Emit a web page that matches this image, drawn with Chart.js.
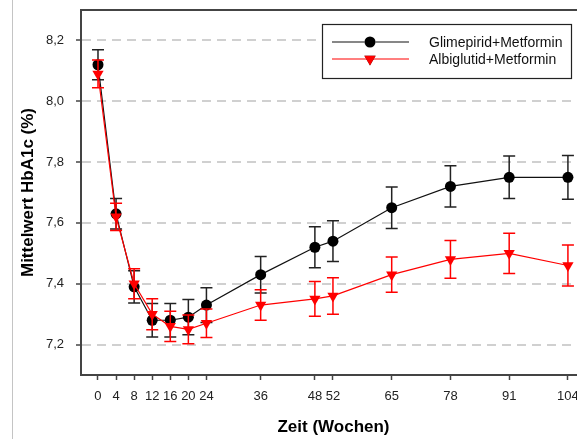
<!DOCTYPE html>
<html>
<head>
<meta charset="utf-8">
<title>HbA1c im Zeitverlauf</title>
<script src="https://cdn.jsdelivr.net/npm/chart.js@4/dist/chart.umd.min.js"></script>
<style>
  html, body { margin: 0; padding: 0; overflow: hidden; background: #fff; }
</style>
</head>
<body>
<canvas id="hba1c" width="600" height="439"></canvas>
<script>
// Weeks of measurement and mean HbA1c (%) with standard error per arm
const weeks = [0, 4, 8, 12, 16, 20, 24, 36, 48, 52, 65, 78, 91, 104];
const glimepiridMean = [8.12, 7.63, 7.39, 7.28, 7.28, 7.29, 7.33, 7.43, 7.52, 7.54, 7.65, 7.72, 7.75, 7.75];
const glimepiridErr = [0.049, 0.05, 0.053, 0.055, 0.055, 0.058, 0.057, 0.06, 0.067, 0.067, 0.068, 0.068, 0.07, 0.072];
const albiglutidMean = [8.09, 7.62, 7.40, 7.30, 7.26, 7.25, 7.27, 7.33, 7.35, 7.36, 7.43, 7.48, 7.50, 7.46];
const albiglutidErr = [0.046, 0.045, 0.049, 0.051, 0.05, 0.047, 0.047, 0.05, 0.057, 0.06, 0.058, 0.062, 0.066, 0.067];
const yTicks = [7.2, 7.4, 7.6, 7.8, 8.0, 8.2];

const FONT = '"Liberation Sans", Arial, sans-serif';
Chart.defaults.font.family = FONT;

const toPoints = (means) => weeks.map((w, i) => ({ x: w, y: means[i] }));

// Scales keep a fixed size and reserve no extra room for edge labels
const fixScale = (size) => (scale) => {
  if (scale.isHorizontal()) scale.height = size; else scale.width = size;
  scale.paddingTop = scale.paddingBottom = 0;
  scale.paddingLeft = scale.paddingRight = 0;
};

// Vertical error bars with caps, drawn under each series
const errorBars = {
  id: 'errorBars',
  beforeDatasetDraw(chart, args) {
    const ds = chart.data.datasets[args.index];
    if (!ds.errors) return;
    const { ctx } = chart;
    const yScale = chart.scales.y;
    ctx.save();
    ctx.strokeStyle = ds.errorColor;
    ctx.lineWidth = 1.5;
    args.meta.data.forEach((pt, i) => {
      const m = ds.data[i].y;
      const top = yScale.getPixelForValue(m + ds.errors[i]);
      const bottom = yScale.getPixelForValue(m - ds.errors[i]);
      ctx.beginPath();
      ctx.moveTo(pt.x, top);
      ctx.lineTo(pt.x, bottom);
      ctx.moveTo(pt.x - 6, top);
      ctx.lineTo(pt.x + 6, top);
      ctx.moveTo(pt.x - 6, bottom);
      ctx.lineTo(pt.x + 6, bottom);
      ctx.stroke();
    });
    ctx.restore();
  }
};

// Top border of the plot and the thin page rule on the left
const frame = {
  id: 'frame',
  afterDraw(chart) {
    const { ctx, chartArea } = chart;
    ctx.save();
    ctx.strokeStyle = '#444';
    ctx.lineWidth = 2;
    ctx.beginPath();
    ctx.moveTo(chartArea.left - 1, chartArea.top);
    ctx.lineTo(chart.width, chartArea.top);
    ctx.stroke();
    ctx.strokeStyle = '#c4c4c4';
    ctx.lineWidth = 1;
    ctx.beginPath();
    ctx.moveTo(12.5, 0);
    ctx.lineTo(12.5, chart.height);
    ctx.stroke();
    ctx.restore();
  }
};

// Boxed legend: line sample with marker, then the label
const boxLegend = {
  id: 'boxLegend',
  afterDraw(chart) {
    const { ctx } = chart;
    ctx.save();
    ctx.fillStyle = '#fff';
    ctx.fillRect(322, 24, 249, 54);
    ctx.strokeStyle = '#222';
    ctx.lineWidth = 1.2;
    ctx.strokeRect(322.5, 24.5, 249, 54);
    chart.data.datasets.forEach((ds, i) => {
      const y = 42 + i * 17;
      ctx.strokeStyle = ds.borderColor;
      ctx.lineWidth = 1.2;
      ctx.beginPath();
      ctx.moveTo(332, y);
      ctx.lineTo(409, y);
      ctx.stroke();
      Chart.helpers.drawPoint(ctx, {
        pointStyle: ds.pointStyle,
        rotation: ds.pointRotation || 0,
        radius: ds.pointRadius,
        borderWidth: 0
      }, 370, y);
      ctx.fillStyle = ds.pointBackgroundColor;
      ctx.fill();
      ctx.fillStyle = '#111';
      ctx.font = '14px ' + FONT;
      ctx.textBaseline = 'middle';
      ctx.fillText(ds.label, 429, y + 1);
    });
    ctx.restore();
  }
};

new Chart(document.getElementById('hba1c'), {
  type: 'line',
  data: {
    datasets: [
      {
        label: 'Glimepirid+Metformin',
        data: toPoints(glimepiridMean),
        errors: glimepiridErr,
        errorColor: '#222',
        borderColor: '#111',
        borderWidth: 1.2,
        pointStyle: 'circle',
        pointRadius: 5.5,
        pointBackgroundColor: '#000',
        pointBorderWidth: 0,
        order: 1
      },
      {
        label: 'Albiglutid+Metformin',
        data: toPoints(albiglutidMean),
        errors: albiglutidErr,
        errorColor: '#ff0000',
        borderColor: '#ff0000',
        borderWidth: 1.2,
        pointStyle: 'triangle',
        pointRotation: 180,
        pointRadius: 6.5,
        pointBackgroundColor: '#ff0000',
        pointBorderWidth: 0,
        order: 0
      }
    ]
  },
  options: {
    responsive: false,
    animation: false,
    layout: { autoPadding: false, padding: { top: 10, right: 14, left: 0, bottom: 0 } },
    plugins: {
      legend: { display: false },
      tooltip: { enabled: false }
    },
    scales: {
      x: {
        type: 'linear',
        min: -3.76,
        max: 108,
        afterBuildTicks: (scale) => { scale.ticks = weeks.map(v => ({ value: v })); },
        afterFit: fixScale(64),
        ticks: {
          autoSkip: false,
          maxRotation: 0,
          padding: 9,
          color: '#222',
          font: { size: 13 },
          callback: (v) => String(v)
        },
        grid: { drawOnChartArea: false, tickLength: 5, tickColor: '#444', tickWidth: 1.5 },
        border: { color: '#444', width: 2 },
        title: {
          display: true,
          text: 'Zeit (Wochen)',
          color: '#000',
          font: { size: 17, weight: 'bold' },
          padding: { top: 0, bottom: 1 }
        }
      },
      y: {
        min: 7.1,
        max: 8.3,
        afterBuildTicks: (scale) => { scale.ticks = yTicks.map(v => ({ value: v })); },
        afterFit: fixScale(81),
        ticks: {
          padding: 12,
          color: '#222',
          font: { size: 13 },
          callback: (v) => v.toFixed(1).replace('.', ',')
        },
        grid: {
          color: '#d0d0d0',
          lineWidth: 2,
          tickLength: 5,
          tickColor: '#444',
          tickWidth: 1.5,
          tickBorderDash: []
        },
        border: { color: '#444', width: 2, dash: [9, 6] },
        title: {
          display: true,
          text: 'Mittelwert HbA1c (%)',
          color: '#000',
          font: { size: 17, weight: 'bold' },
          padding: { top: 18, bottom: 0 }
        }
      }
    }
  },
  plugins: [errorBars, frame, boxLegend]
});
</script>
</body>
</html>
